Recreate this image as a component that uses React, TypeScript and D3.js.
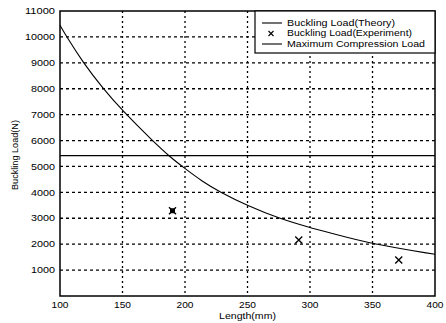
import React, { useEffect, useRef } from 'react';
import * as d3 from 'd3';

// Theory curve
const theoryLength = [100, 105.4, 118.6, 134.6, 149, 174, 188.6, 199.2, 213.9, 227.7, 250, 275, 300, 316.7, 350, 400];
const theoryLoad = [10450, 10000, 9000, 8000, 7200, 5990, 5340, 4950, 4420, 4020, 3485, 3000, 2640, 2430, 2000, 1610];

// Experiment points
const expLength = [190, 291, 371];
const expLoad = [3290, 2160, 1390];

const maxCompression = 5420;

const xTicks = [100, 150, 200, 250, 300, 350, 400];
const yTicks = [1000, 2000, 3000, 4000, 5000, 6000, 7000, 8000, 9000, 10000, 11000];

const legendLabels = ['Buckling Load(Theory)', 'Buckling Load(Experiment)', 'Maximum Compression Load'];

function App() {
  const svgRef = useRef<SVGSVGElement>(null);

  useEffect(() => {
    const width = 446;
    const height = 323;
    const margin = { top: 11, right: 11, bottom: 27, left: 60 };
    const innerWidth = width - margin.left - margin.right;
    const innerHeight = height - margin.top - margin.bottom;
    const font = '"Liberation Sans", Arial, sans-serif';

    const svg = d3.select(svgRef.current)
      .attr('width', width)
      .attr('height', height);

    svg.selectAll('*').remove();

    svg.append('rect').attr('width', width).attr('height', height).attr('fill', '#fff');

    const g = svg.append('g')
      .attr('transform', `translate(${margin.left},${margin.top})`);

    const xScale = d3.scaleLinear().domain([100, 400]).range([0, innerWidth]);
    const yScale = d3.scaleLinear().domain([0, 11000]).range([innerHeight, 0]);

    // Grid (dotted)
    g.append('g')
      .selectAll('line')
      .data(xTicks.slice(1, -1))
      .enter()
      .append('line')
      .attr('x1', d => xScale(d))
      .attr('x2', d => xScale(d))
      .attr('y1', 0)
      .attr('y2', innerHeight)
      .attr('stroke', '#000')
      .attr('stroke-width', 1.3)
      .attr('stroke-dasharray', '2,3');

    g.append('g')
      .selectAll('line')
      .data(yTicks.slice(0, -1))
      .enter()
      .append('line')
      .attr('x1', 0)
      .attr('x2', innerWidth)
      .attr('y1', d => yScale(d))
      .attr('y2', d => yScale(d))
      .attr('stroke', '#000')
      .attr('stroke-width', 1.3)
      .attr('stroke-dasharray', '3,3');

    // Max compression line
    g.append('line')
      .attr('x1', 0)
      .attr('x2', innerWidth)
      .attr('y1', yScale(maxCompression))
      .attr('y2', yScale(maxCompression))
      .attr('stroke', '#000')
      .attr('stroke-width', 1.3);

    // Theory curve
    const theory = theoryLength.map((l, i) => [l, theoryLoad[i]] as [number, number]);
    const line = d3.line<[number, number]>()
      .x(d => xScale(d[0]))
      .y(d => yScale(d[1]))
      .curve(d3.curveBasis);

    g.append('path')
      .datum(theory)
      .attr('d', line)
      .attr('fill', 'none')
      .attr('stroke', '#000')
      .attr('stroke-width', 1.1);

    // Experiment markers
    const cross = (sel: any, s: number) => {
      sel.append('path')
        .attr('d', `M${-s},${-s}L${s},${s}M${-s},${s}L${s},${-s}`)
        .attr('stroke', '#000')
        .attr('stroke-width', 1.4)
        .attr('fill', 'none');
    };
    expLength.forEach((l, i) => {
      const m = g.append('g').attr('transform', `translate(${xScale(l)},${yScale(expLoad[i])})`);
      cross(m, 3.5);
      if (i === 0) {
        m.append('rect').attr('x', -2.5).attr('y', -2.5).attr('width', 5).attr('height', 5).attr('fill', '#000');
      }
    });

    // Box
    g.append('rect')
      .attr('width', innerWidth)
      .attr('height', innerHeight)
      .attr('fill', 'none')
      .attr('stroke', '#000')
      .attr('stroke-width', 1.5);

    // Tick labels
    g.append('g')
      .selectAll('text')
      .data(yTicks)
      .enter()
      .append('text')
      .attr('x', -5)
      .attr('y', d => yScale(d))
      .attr('dy', '0.35em')
      .attr('text-anchor', 'end')
      .attr('font-family', font)
      .attr('font-size', '9px')
      .attr('textLength', d => String(d).length * 6)
      .attr('lengthAdjust', 'spacingAndGlyphs')
      .text(d => d);

    g.append('g')
      .selectAll('text')
      .data(xTicks)
      .enter()
      .append('text')
      .attr('x', d => xScale(d))
      .attr('y', innerHeight + 12)
      .attr('text-anchor', 'middle')
      .attr('font-family', font)
      .attr('font-size', '9px')
      .attr('textLength', 17)
      .attr('lengthAdjust', 'spacingAndGlyphs')
      .text(d => d);

    // Axis labels
    g.append('text')
      .attr('x', innerWidth / 2)
      .attr('y', innerHeight + 23)
      .attr('text-anchor', 'middle')
      .attr('font-family', font)
      .attr('font-size', '8.5px')
      .attr('textLength', 57)
      .attr('lengthAdjust', 'spacingAndGlyphs')
      .text('Length(mm)');

    g.append('text')
      .attr('transform', 'rotate(-90)')
      .attr('x', -(155 - margin.top))
      .attr('y', 15 - margin.left + 3)
      .attr('text-anchor', 'middle')
      .attr('font-family', font)
      .attr('font-size', '8.5px')
      .attr('textLength', 70)
      .attr('lengthAdjust', 'spacingAndGlyphs')
      .text('Buckling Load(N)');

    // Legend
    const lx = 255 - margin.left;
    const ly = 0;
    const lw = 435 - 255;
    const lh = 42;
    const legend = g.append('g').attr('transform', `translate(${lx},${ly})`);
    legend.append('rect')
      .attr('width', lw)
      .attr('height', lh)
      .attr('fill', '#fff')
      .attr('stroke', '#000')
      .attr('stroke-width', 1.2);

    legendLabels.forEach((label, i) => {
      const y = 12 + i * 10.5;
      if (i === 1) {
        const m = legend.append('g').attr('transform', `translate(${16},${y})`);
        m.append('path')
          .attr('d', 'M-2.5,-2.5L2.5,2.5M-2.5,2.5L2.5,-2.5')
          .attr('stroke', '#000')
          .attr('stroke-width', 1.1);
      } else {
        legend.append('line')
          .attr('x1', 7)
          .attr('x2', 27)
          .attr('y1', y)
          .attr('y2', y)
          .attr('stroke', '#000')
          .attr('stroke-width', 1.1);
      }
      legend.append('text')
        .attr('x', 32)
        .attr('y', y)
        .attr('dy', '0.35em')
        .attr('font-family', font)
        .attr('font-size', '8.5px')
        .attr('textLength', [108, 125, 138][i])
        .attr('lengthAdjust', 'spacingAndGlyphs')
        .text(label);
    });
  }, []);

  return (
    <svg ref={svgRef} style={{ position: 'absolute', left: 0, top: 0, display: 'block' }}></svg>
  );
}

export default App;
